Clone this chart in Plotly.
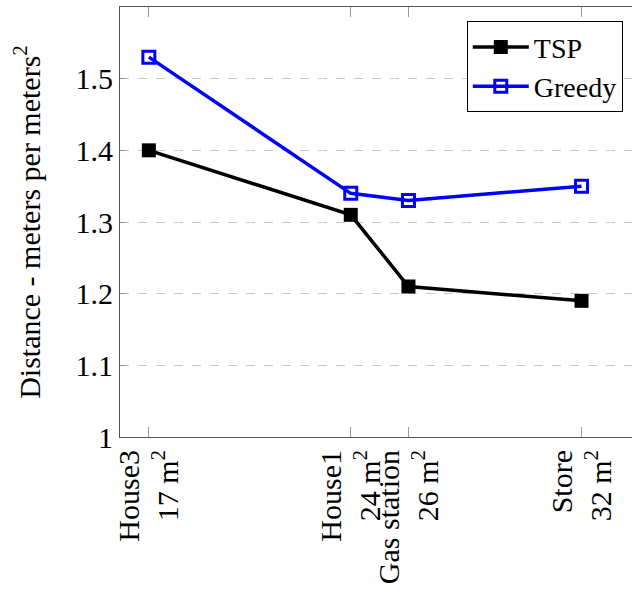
import plotly.graph_objects as go

areas = [17, 24, 26, 32]
place_names = ["House3", "House1", "Gas station", "Store"]
tsp_values = [1.40, 1.31, 1.21, 1.19]
greedy_values = [1.53, 1.34, 1.33, 1.35]
y_ticks = [1, 1.1, 1.2, 1.3, 1.4, 1.5]
y_tick_labels = ["1", "1.1", "1.2", "1.3", "1.4", "1.5"]

x_tick_labels = [f"{n}<br>{a} m<sup>2</sup>" for n, a in zip(place_names, areas)]

FONT = "Liberation Serif, DejaVu Serif, serif"
FS = 30

fig = go.Figure()
fig.add_trace(go.Scatter(
    x=areas, y=tsp_values, name="TSP", mode="lines+markers",
    line=dict(color="black", width=3.5),
    marker=dict(symbol="square", size=14, color="black"),
))
fig.add_trace(go.Scatter(
    x=areas, y=greedy_values, name="Greedy", mode="lines+markers",
    line=dict(color="#0000ff", width=3.5),
    marker=dict(symbol="square-open", size=12, color="#0000ff", line=dict(width=3, color="#0000ff")),
))

fig.update_layout(
    width=632, height=595,
    margin=dict(l=120, r=0, t=7, b=158, autoexpand=False),
    paper_bgcolor="white", plot_bgcolor="white",
    font=dict(family=FONT, size=FS, color="black"),
    showlegend=True,
    legend=dict(
        x=0.982, y=0.967, xanchor="right", yanchor="top",
        bgcolor="white", bordercolor="black", borderwidth=1,
        font=dict(family=FONT, size=28, color="black"),
        tracegroupgap=0, itemwidth=56,
    ),
)
fig.update_xaxes(
    range=[16, 33.75], automargin=False,
    tickmode="array", tickvals=areas, ticktext=x_tick_labels,
    tickangle=-90,
    ticks="inside", ticklen=10, tickcolor="#999999", tickwidth=1,
    showline=True, linecolor="#555555", linewidth=1, mirror="ticks",
    showgrid=False, zeroline=False,
    tickfont=dict(family=FONT, size=FS, color="black"),
)
fig.update_yaxes(
    range=[1, 1.6], automargin=False,
    tickmode="array", tickvals=y_ticks, ticktext=y_tick_labels,
    ticks="inside", ticklen=6, tickcolor="#999999",
    showline=True, linecolor="#555555", linewidth=1, mirror=False,
    showgrid=True, gridcolor="#c8c8c8", griddash="dash", gridwidth=1,
    zeroline=False,
    tickfont=dict(family=FONT, size=FS, color="black"),
    title=dict(text="Distance - meters per meters<sup>2</sup>", font=dict(family=FONT, size=FS, color="black"), standoff=26),
)

fig.write_html(
    "out.html",
    config={"displayModeBar": False},
    post_script="document.body.style.margin='0';document.body.style.overflow='hidden';",
)
